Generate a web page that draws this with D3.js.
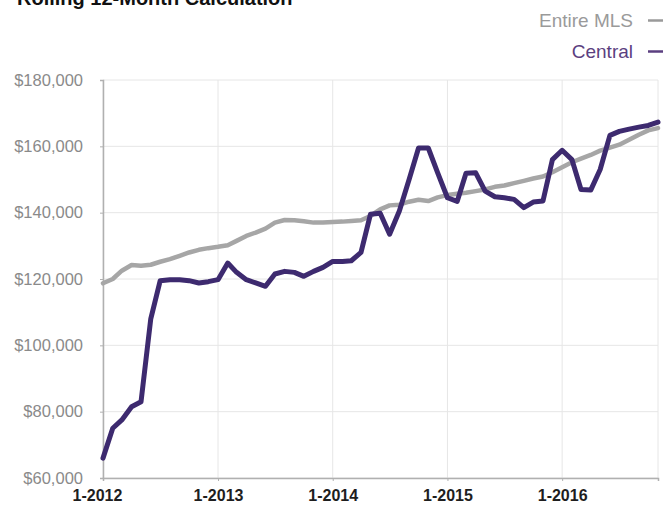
<!DOCTYPE html>
<html>
<head>
<meta charset="utf-8">
<script src="https://cdn.jsdelivr.net/npm/d3@7"></script>
<style>
  html, body { margin: 0; padding: 0; background: #fff; }
  svg { display: block; }
</style>
</head>
<body>
<svg id="chart" width="672" height="511"></svg>
<script>
// Monthly rolling 12-month median values, Jan 2012 – Nov 2016
const startMonth = new Date(2012, 0, 1);
const seriesNames = ["Entire MLS", "Central"];
const entireMLS = [
  118700, 120000, 122500, 124200, 124000, 124300, 125200, 126000, 127000, 128000, 128800, 129300,
  129700, 130200, 131500, 133000, 134000, 135200, 137000, 137800, 137700, 137400, 137000, 137000,
  137200, 137300, 137500, 137700, 139000, 141000, 142200, 142400, 143300, 143900, 143500, 144600,
  145300, 145700, 146000, 146500, 147000, 147800, 148200, 148900, 149600, 150300, 150900, 152200,
  153700, 155200, 156300, 157400, 158700, 159600, 160500, 162000, 163500, 164800, 165500
];
const central = [
  66000, 75000, 77500, 81500, 83000, 108000, 119500, 119800, 119800, 119500, 118800, 119200,
  119800, 124800, 122000, 119800, 118800, 117800, 121500, 122300, 122000, 120800, 122300, 123500,
  125300, 125300, 125500, 128000, 139500, 139800, 133500, 140500, 150000, 159500, 159500, 152000,
  144500, 143400, 151900, 152000, 146500, 144800, 144500, 144000, 141500, 143200, 143500, 156000,
  158800, 156000, 147000, 146800, 153000, 163300, 164500, 165200, 165800, 166300, 167300
];
const yTicks = [60000, 80000, 100000, 120000, 140000, 160000, 180000];
const xTickDates = [new Date(2012, 0, 1), new Date(2013, 0, 1), new Date(2014, 0, 1), new Date(2015, 0, 1), new Date(2016, 0, 1)];
const titleText = "Rolling 12-Month Calculation";

const colors = { "Entire MLS": "#a6a6a6", "Central": "#3d2a6f" };
const legendColors = { "Entire MLS": "#9a9a9a", "Central": "#5b3f80" };

const monthDate = i => new Date(startMonth.getFullYear(), startMonth.getMonth() + i, 1);
const toPoints = arr => arr.map((v, i) => ({ date: monthDate(i), value: v }));
const series = [
  { name: "Entire MLS", points: toPoints(entireMLS), width: 4.5 },
  { name: "Central", points: toPoints(central), width: 5 }
];

const svg = d3.select("#chart");
const plot = { left: 103, right: 658, top: 80, bottom: 478 };

const x = d3.scaleTime()
  .domain([startMonth, monthDate(entireMLS.length - 1)])
  .range([plot.left, plot.right]);
const y = d3.scaleLinear()
  .domain([60000, 180000])
  .range([plot.bottom, plot.top]);

// Title, running off the top edge of the page
svg.append("text")
  .attr("x", 17).attr("y", 5)
  .attr("font-family", "Liberation Sans, Arial, sans-serif")
  .attr("font-weight", "bold")
  .attr("font-size", 20)
  .attr("fill", "#111")
  .text(titleText);

// Gridlines
svg.append("g").selectAll("line.h")
  .data(yTicks).join("line")
  .attr("x1", plot.left).attr("x2", plot.right)
  .attr("y1", d => y(d)).attr("y2", d => y(d))
  .attr("stroke", "#e6e6e6").attr("stroke-width", 1);
svg.append("g").selectAll("line.v")
  .data(xTickDates.concat([monthDate(entireMLS.length - 1)])).join("line")
  .attr("x1", d => x(d)).attr("x2", d => x(d))
  .attr("y1", plot.top).attr("y2", plot.bottom)
  .attr("stroke", "#e6e6e6").attr("stroke-width", 1);

// Y axis
const yAxis = svg.append("g")
  .attr("transform", `translate(${plot.left},0)`)
  .call(d3.axisLeft(y).tickValues(yTicks).tickSize(3).tickPadding(17)
    .tickFormat(d => "$" + d3.format(",")(d)));
yAxis.select(".domain").attr("stroke", "#b0b0b0").attr("stroke-width", 1.5);
yAxis.selectAll(".tick line").attr("stroke", "#b0b0b0");
yAxis.selectAll(".tick text")
  .attr("font-family", "Liberation Sans, Arial, sans-serif")
  .attr("font-size", 16.5)
  .attr("fill", "#8a8a8a");

// X axis
const xAxis = svg.append("g")
  .attr("transform", `translate(0,${plot.bottom})`)
  .call(d3.axisBottom(x).tickValues(xTickDates).tickSize(3).tickPadding(9)
    .tickFormat(d => (d.getMonth() + 1) + "-" + d.getFullYear()));
xAxis.select(".domain").attr("stroke", "#b0b0b0").attr("stroke-width", 1.5);
xAxis.selectAll(".tick line").attr("stroke", "#b0b0b0");
xAxis.selectAll(".tick text")
  .attr("font-family", "Liberation Sans, Arial, sans-serif")
  .attr("font-weight", "bold")
  .attr("font-size", 16)
  .attr("fill", "#1e1e1e")
  .attr("dx", (d, i) => i === 0 ? -6 : 0);

// Lines
const line = d3.line()
  .x(d => x(d.date))
  .y(d => y(d.value));
svg.append("g").selectAll("path")
  .data(series).join("path")
  .attr("d", d => line(d.points))
  .attr("fill", "none")
  .attr("stroke", d => colors[d.name])
  .attr("stroke-width", d => d.width)
  .attr("stroke-linejoin", "round")
  .attr("stroke-linecap", "round");

// Legend (top right)
const legend = svg.append("g").selectAll("g")
  .data(seriesNames).join("g")
  .attr("transform", (d, i) => `translate(0,${27 + i * 31})`);
legend.append("text")
  .attr("x", 633).attr("y", 0)
  .attr("text-anchor", "end")
  .attr("font-family", "Liberation Sans, Arial, sans-serif")
  .attr("font-size", 19)
  .attr("fill", d => legendColors[d])
  .text(d => d);
legend.append("line")
  .attr("x1", 648).attr("x2", 663)
  .attr("y1", -6.5).attr("y2", -6.5)
  .attr("stroke", d => legendColors[d])
  .attr("stroke-width", 2.5);
</script>
</body>
</html>
